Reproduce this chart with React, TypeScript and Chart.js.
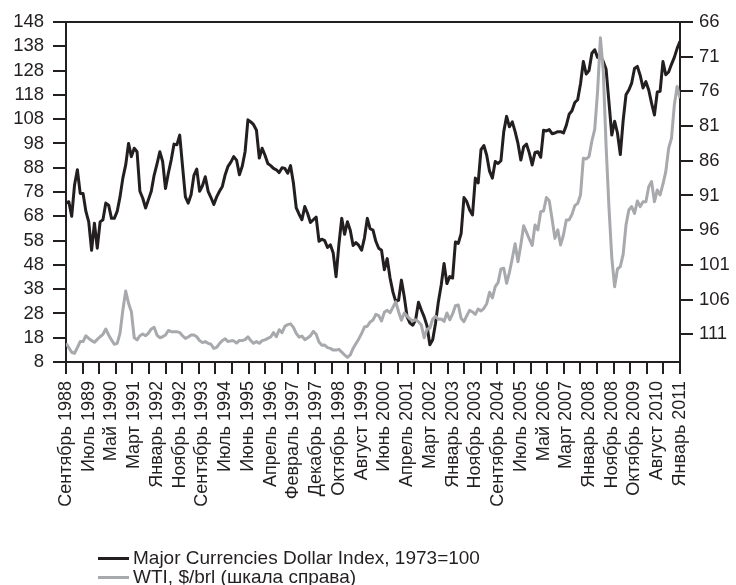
import { useEffect, useRef } from "react";
import { Chart, registerables } from "chart.js";

Chart.register(...registerables);

// Date labels shown under the horizontal axis (one every `pointsPerLabel` observations)
const tickLabels = [
  "Сентябрь 1988", "Июль 1989", "Май 1990", "Март 1991", "Январь 1992", "Ноябрь 1992",
  "Сентябрь 1993", "Июль 1994", "Июнь 1995", "Апрель 1996", "Февраль 1997", "Декабрь 1997",
  "Октябрь 1998", "Август 1999", "Июнь 2000", "Апрель 2001", "Март 2002", "Январь 2003",
  "Ноябрь 2003", "Сентябрь 2004", "Июль 2005", "Май 2006", "Март 2007", "Январь 2008",
  "Ноябрь 2008", "Октябрь 2009", "Август 2010", "Январь 2011",
];
const pointsPerLabel = 8;
const tickMarkCount = 37;

// Major Currencies Dollar Index, 1973=100 (right axis, inverted)
const dollarIndex = [
  92.1, 91.9, 94.0, 89.5, 87.3, 90.7, 90.7, 93.3, 94.8, 98.9,
  95.0, 98.6, 94.8, 94.5, 92.1, 92.4, 94.3, 94.3, 93.3, 91.2,
  88.5, 86.6, 83.5, 85.4, 84.2, 84.7, 90.4, 91.4, 92.8, 91.6,
  90.4, 88.1, 86.5, 84.7, 86.1, 90.0, 87.8, 85.9, 83.6, 83.7,
  82.3, 86.8, 91.2, 92.1, 90.9, 88.1, 87.2, 90.4, 89.6, 88.3,
  90.4, 91.3, 92.3, 91.2, 90.4, 89.7, 88.0, 86.8, 86.2, 85.4,
  85.9, 88.0, 86.8, 84.7, 80.1, 80.4, 80.8, 81.6, 85.6, 84.2,
  85.2, 86.4, 86.7, 87.1, 87.3, 87.7, 87.0, 87.1, 87.8, 86.7,
  89.2, 92.8, 93.7, 94.5, 92.6, 93.6, 94.9, 94.5, 94.1, 97.6,
  97.3, 97.5, 98.5, 98.1, 99.3, 102.7, 98.1, 94.3, 96.6, 94.8,
  96.0, 98.2, 97.8, 98.2, 98.9, 97.1, 94.3, 95.8, 96.0, 97.6,
  98.6, 98.9, 101.7, 100.1, 102.9, 104.9, 106.3, 106.1, 103.2, 105.6,
  108.5, 109.4, 109.7, 108.9, 106.4, 107.5, 108.5, 109.8, 112.5, 111.8,
  109.4, 106.3, 103.9, 100.8, 103.7, 102.7, 102.9, 97.7, 97.9, 96.5,
  91.3, 91.9, 93.1, 93.8, 88.5, 89.2, 84.4, 83.8, 85.2, 87.5,
  88.5, 86.1, 86.4, 86.0, 81.8, 79.6, 81.1, 80.4, 81.8, 83.5,
  85.9, 84.0, 83.6, 84.9, 86.6, 84.8, 84.7, 85.5, 81.6, 81.7,
  81.5, 82.1, 82.0, 81.8, 81.8, 82.0, 80.9, 79.3, 78.8, 77.6,
  77.2, 74.9, 71.7, 73.5, 73.0, 70.5, 70.0, 71.1, 70.9, 71.7,
  72.8, 77.5, 82.3, 80.3, 82.0, 85.1, 80.2, 76.5, 75.8, 74.8,
  72.7, 72.4, 73.7, 75.5, 74.6, 75.8, 77.7, 79.4, 76.1, 76.0,
  71.7, 73.6, 73.2, 72.1, 71.1, 69.8, 68.8,
];

// WTI, $/brl (left axis)
const wtiPrice = [
  15.7, 13.9, 12.0, 11.6, 13.9, 16.4, 16.4, 18.8, 17.7, 16.8,
  16.1, 17.3, 18.4, 19.4, 21.6, 19.1, 17.1, 15.3, 15.7, 19.8,
  29.4, 37.2, 32.2, 28.7, 18.0, 17.1, 18.8, 19.5, 18.8, 19.9,
  21.6, 22.3, 19.1, 18.0, 18.4, 19.1, 21.0, 20.5, 20.5, 20.5,
  20.1, 18.8, 17.7, 18.3, 19.1, 19.1, 18.4, 16.8, 16.0, 16.4,
  15.7, 15.3, 13.6, 14.0, 15.6, 16.8, 17.6, 16.4, 16.7, 16.7,
  15.8, 16.9, 16.8, 17.2, 18.4, 16.8, 15.7, 16.4, 15.7, 16.8,
  17.1, 17.7, 18.3, 20.1, 18.4, 21.3, 20.1, 22.7, 23.4, 23.7,
  22.3, 19.8, 18.2, 18.7, 17.2, 17.9, 18.8, 20.6, 19.4, 16.2,
  14.9, 15.0, 13.9, 13.6, 12.9, 12.9, 13.2, 12.1, 10.9, 9.9,
  10.9, 13.6, 15.6, 17.5, 19.8, 22.4, 22.7, 24.5, 25.3, 27.6,
  27.1, 24.9, 28.5, 29.3, 28.3, 30.5, 32.8, 28.7, 25.2, 28.2,
  26.9, 25.7, 25.0, 25.4, 24.6, 23.2, 18.0, 21.5, 21.9, 25.7,
  26.8, 25.6, 25.7, 24.7, 28.2, 25.4, 27.8, 31.2, 31.5, 26.0,
  24.6, 27.1, 29.3, 28.6, 27.6, 29.8, 29.0, 30.1, 32.0, 36.7,
  34.4, 39.0, 40.7, 46.3, 46.6, 40.4, 44.9, 50.7, 56.7, 49.3,
  56.2, 64.1, 61.4, 58.6, 56.0, 64.4, 62.4, 69.9, 70.2, 75.7,
  74.4, 66.9, 58.9, 62.4, 56.2, 60.3, 66.5, 66.5, 68.8, 72.4,
  73.3, 76.8, 91.9, 91.6, 92.6, 99.0, 103.8, 119.3, 141.5, 128.0,
  97.0, 72.0, 51.0, 39.0, 46.3, 47.3, 52.3, 64.4, 70.6, 72.0,
  69.2, 74.3, 72.0, 74.0, 74.0, 80.2, 82.3, 74.0, 78.8, 76.8,
  81.2, 86.4, 96.0, 100.1, 113.8, 121.4, 116.6,
];

const leftTicks = [8, 18, 28, 38, 48, 58, 68, 78, 88, 98, 108, 118, 128, 138, 148];
const rightTicks = [66, 71, 76, 81, 86, 91, 96, 101, 106, 111];

const seriesNames = ["Major Currencies Dollar Index, 1973=100", "WTI, $/brl (шкала справа)"];
const seriesColors = ["#231f20", "#a7a9ac"];

const axisColor = "#231f20";
const textColor = "#231f20";
const fontFamily = "'Liberation Sans', Arial, sans-serif";

const frameTop = {
  id: "frameTop",
  afterDraw(chart: any) {
    const { ctx, chartArea } = chart;
    ctx.save();
    ctx.strokeStyle = axisColor;
    ctx.lineWidth = 2;
    ctx.beginPath();
    ctx.moveTo(chartArea.left - 1, chartArea.top);
    ctx.lineTo(chartArea.right + 1, chartArea.top);
    ctx.stroke();
    ctx.restore();
  },
};

export default function App() {
  const canvasRef = useRef<HTMLCanvasElement>(null);

  useEffect(() => {
    if (!canvasRef.current) return;
    const lastIndex = dollarIndex.length - 1;
    const near = (a: number, b: number) => Math.abs(a - b) < 1e-6;
    const labelValues = tickLabels.map((_, i) => i * pointsPerLabel);
    const markValues = Array.from({ length: tickMarkCount + 1 }, (_, j) => (lastIndex * j) / tickMarkCount);
    const xTickValues = [
      ...labelValues,
      ...markValues.filter((m) => !labelValues.some((l) => near(l, m))),
    ].sort((a, b) => a - b);
    const labelAt = (v: number) => {
      const k = labelValues.findIndex((l) => near(l, v));
      return k >= 0 ? tickLabels[k] : "";
    };
    const isMark = (v: number) => markValues.some((m) => near(m, v));

    Chart.defaults.font.family = fontFamily;
    Chart.defaults.color = textColor;

    const chart = new Chart(canvasRef.current, {
      type: "line",
      data: {
        datasets: [
          {
            label: seriesNames[0],
            data: dollarIndex.map((y, x) => ({ x, y })),
            yAxisID: "y1",
            borderColor: seriesColors[0],
            borderWidth: 3,
            pointRadius: 0,
            tension: 0,
            borderJoinStyle: "round",
            order: 1,
          },
          {
            label: seriesNames[1],
            data: wtiPrice.map((y, x) => ({ x, y })),
            yAxisID: "y",
            borderColor: seriesColors[1],
            borderWidth: 3,
            pointRadius: 0,
            tension: 0,
            borderJoinStyle: "round",
            order: 0,
          },
        ],
      },
      options: {
        animation: false,
        responsive: false,
        events: [],
        layout: { padding: { top: 22, left: 0, right: 0, bottom: 0 } },
        plugins: { legend: { display: false }, tooltip: { enabled: false } },
        scales: {
          x: {
            type: "linear",
            min: 0,
            max: lastIndex,
            afterBuildTicks: (s: any) => {
              s.ticks = xTickValues.map((value) => ({ value }));
            },
            afterFit: (s: any) => {
              s.height = 223;
            },
            grid: {
              drawOnChartArea: false,
              tickLength: 12,
              lineWidth: 2,
              tickColor: (c: any) => (c.tick && isMark(c.tick.value) ? axisColor : "rgba(0,0,0,0)"),
            },
            border: { color: axisColor, width: 2 },
            ticks: {
              autoSkip: false,
              minRotation: 90,
              maxRotation: 90,
              padding: 7,
              color: textColor,
              font: { size: 18 },
              callback: (v: any) => labelAt(Number(v)),
            },
          },
          y: {
            type: "linear",
            position: "left",
            min: 8,
            max: 148,
            afterBuildTicks: (s: any) => {
              s.ticks = leftTicks.map((value) => ({ value }));
            },
            afterFit: (s: any) => {
              s.width = 66;
            },
            grid: { drawOnChartArea: false, tickLength: 13, lineWidth: 2, color: axisColor },
            border: { color: axisColor, width: 2 },
            ticks: { autoSkip: false, padding: 9, color: textColor, font: { size: 18.5 } },
          },
          y1: {
            type: "linear",
            position: "right",
            reverse: true,
            min: 66,
            max: 115,
            afterBuildTicks: (s: any) => {
              s.ticks = rightTicks.map((value) => ({ value }));
            },
            afterFit: (s: any) => {
              s.width = 56;
            },
            grid: { drawOnChartArea: false, tickLength: 13, lineWidth: 2, color: axisColor },
            border: { color: axisColor, width: 2 },
            ticks: { autoSkip: false, padding: 6, color: textColor, font: { size: 18.5 } },
          },
        },
      },
      plugins: [frameTop],
    } as any);

    return () => chart.destroy();
  }, []);

  const legendRows = [
    { top: 547, color: seriesColors[0], name: seriesNames[0] },
    { top: 566, color: seriesColors[1], name: seriesNames[1] },
  ];

  return (
    <div style={{ position: "fixed", left: 0, top: 0, width: 736, height: 585, background: "#fff" }}>
      <canvas ref={canvasRef} width={736} height={585} style={{ width: 736, height: 585, display: "block" }} />
      {legendRows.map((row) => (
        <div
          key={row.name}
          style={{
            position: "absolute",
            left: 98,
            top: row.top,
            height: 22,
            display: "flex",
            alignItems: "center",
            fontFamily,
            fontSize: 19,
            lineHeight: "22px",
            color: textColor,
            whiteSpace: "nowrap",
          }}
        >
          <span style={{ display: "inline-block", width: 31, height: 3, background: row.color, marginRight: 4 }} />
          <span>{row.name}</span>
        </div>
      ))}
    </div>
  );
}
